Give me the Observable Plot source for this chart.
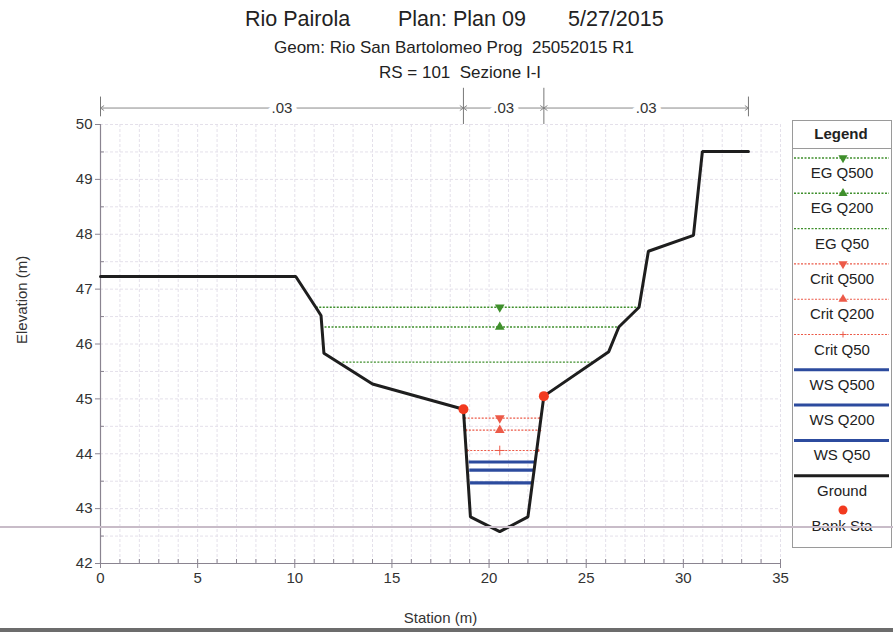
<!DOCTYPE html>
<html>
<head>
<meta charset="utf-8">
<script src="https://cdn.jsdelivr.net/npm/d3@7"></script>
<script src="https://cdn.jsdelivr.net/npm/@observablehq/plot@0.6"></script>
<style>
  html, body { margin: 0; padding: 0; background: #fff; }
  body { width: 893px; height: 632px; position: relative; overflow: hidden; font-family: "Liberation Sans", Arial, sans-serif; color: #222; }
  #chart { position: absolute; left: 0; top: 0; }
  .t { position: absolute; white-space: pre; }
  .c { text-align: center; left: 0; width: 900px; }
  #legend { position: absolute; left: 0; top: 0; }
  #scanline { position: absolute; left: 0; top: 526px; width: 893px; height: 1.5px; background: #c8bcc8; }
  #bottomband { position: absolute; left: 0; top: 628px; width: 893px; height: 4px; background: #6c6c6c; }
</style>
</head>
<body>
<div id="chart"></div>
<div class="t" style="top:7px;left:245px;font-size:21.5px;">Rio Pairola</div>
<div class="t" style="top:7px;left:398px;font-size:21.5px;">Plan: Plan 09</div>
<div class="t" style="top:7px;left:568px;font-size:21.5px;">5/27/2015</div>
<div class="t c" style="top:38px;font-size:17px;left:4px;">Geom: Rio San Bartolomeo Prog  25052015 R1</div>
<div class="t c" style="top:63px;font-size:17px;left:10px;">RS = 101  Sezione I-I</div>
<svg id="legend" width="893" height="632"></svg>
<div id="scanline"></div>
<div id="bottomband"></div>
<script>
// Ground profile
const groundStation = [0, 10.05, 11.08, 11.35, 11.5, 14.0, 18.68, 19.04, 20.55, 22.0, 22.82, 26.16, 26.68, 27.72, 28.2, 30.52, 30.98, 33.35];
const groundElev    = [47.23, 47.23, 46.67, 46.52, 45.83, 45.27, 44.81, 42.85, 42.58, 42.85, 45.05, 45.86, 46.31, 46.67, 47.69, 47.98, 49.51, 49.51];

// Bank stations
const bankStation = [18.68, 22.82];
const bankElev    = [44.81, 45.05];

// Water surface profiles
const profileNames = ["EG Q500", "EG Q200", "EG Q50", "Crit Q500", "Crit Q200", "Crit Q50", "WS Q500", "WS Q200", "WS Q50"];
const profileElev  = [46.67, 46.31, 45.67, 44.65, 44.43, 44.06, 43.85, 43.70, 43.47];
const profileLeft  = [11.08, 11.35, 12.45, 18.72, 18.78, 18.85, 18.95, 18.98, 19.02];
const profileRight = [27.72, 26.68, 25.30, 22.65, 22.60, 22.52, 22.32, 22.28, 22.18];
const profileMarkerStation = 20.55;

// Manning's n regions
const nStart = [0, 18.68, 22.82];
const nEnd   = [18.68, 22.82, 33.35];
const nValue = [".03", ".03", ".03"];

// Axis ticks
const xTicks = [0, 5, 10, 15, 20, 25, 30, 35];
const yTicks = [42, 43, 44, 45, 46, 47, 48, 49, 50];

const ground = groundStation.map((s, i) => ({station: s, elev: groundElev[i]}));
const banks = bankStation.map((s, i) => ({station: s, elev: bankElev[i]}));
const profiles = profileNames.map((n, i) => ({name: n, elev: profileElev[i], left: profileLeft[i], right: profileRight[i]}));
const nRegions = nStart.map((s, i) => ({start: s, end: nEnd[i], mid: (s + nEnd[i]) / 2, label: nValue[i]}));

const style = {
  "EG":   {stroke: "#3f8f2c", width: 1.4, dash: "2,1.5"},
  "Crit": {stroke: "#ec5a48", width: 1.1, dash: "2,1.5"},
  "WS":   {stroke: "#2c4b9e", width: 3.2, dash: null}
};
const kind = n => n.split(" ")[0];
const marker = n => ({"EG Q500": "down", "EG Q200": "up", "Crit Q500": "down", "Crit Q200": "up", "Crit Q50": "plus"})[n] || null;

const axisColor = "#8a8490";
const marks = [];
// grid
marks.push(Plot.ruleX(d3.range(1, 36, 1), {stroke: "#e4e0ea", strokeWidth: 1, strokeDasharray: "3,2"}));
marks.push(Plot.ruleY(d3.range(42.5, 50.01, 0.5), {stroke: "#e4e0ea", strokeWidth: 1, strokeDasharray: "3,2"}));
// axes lines
marks.push(Plot.ruleY([42], {stroke: axisColor, strokeWidth: 1.2}));
marks.push(Plot.ruleX([0], {stroke: axisColor, strokeWidth: 1.2}));
// minor ticks
marks.push(Plot.axisX(d3.range(0, 36, 1), {tickSize: -4, text: null, stroke: axisColor, label: null}));
marks.push(Plot.axisY(d3.range(42.5, 50, 1), {tickSize: -4, text: null, stroke: axisColor, label: null}));
// major axes
marks.push(Plot.axisX(xTicks, {tickSize: 5, tickPadding: 4, stroke: axisColor, fill: "#333", fontSize: 15, label: null, tickFormat: d => String(d)}));
marks.push(Plot.axisY(yTicks, {tickSize: 5, tickPadding: 3, stroke: axisColor, fill: "#333", fontSize: 15, label: null, tickFormat: d => String(d)}));

// Manning n arrows
nRegions.forEach(r => {
  marks.push(Plot.arrow([r], {x1: "mid", x2: "start", y1: 50.30, y2: 50.30, stroke: "#8a8a8a", strokeWidth: 1, headLength: 6, headAngle: 70}));
  marks.push(Plot.arrow([r], {x1: "mid", x2: "end", y1: 50.30, y2: 50.30, stroke: "#8a8a8a", strokeWidth: 1, headLength: 6, headAngle: 70}));
  marks.push(Plot.text([r], {x: "mid", y: 50.30, text: "label", fontSize: 15, fill: "#333", stroke: "white", strokeWidth: 10}));
});
const bounds = [nStart[0], ...nEnd];
marks.push(Plot.ruleX(bounds.filter((b, i) => i === 0 || i === bounds.length - 1), {y1: 50.14, y2: 50.5, stroke: "#777", strokeWidth: 1}));
marks.push(Plot.ruleX(bounds.filter((b, i) => i > 0 && i < bounds.length - 1), {y1: 50.0, y2: 50.66, stroke: "#777", strokeWidth: 1}));

// water profiles
profiles.forEach(p => {
  const s = style[kind(p.name)];
  marks.push(Plot.link([p], {x1: "left", x2: "right", y1: "elev", y2: "elev", stroke: s.stroke, strokeWidth: s.width, strokeDasharray: s.dash}));
  const m = marker(p.name);
  if (m === "up" || m === "down") {
    marks.push(Plot.dot([p], {x: profileMarkerStation, y: "elev", symbol: "triangle", r: 3.6, fill: s.stroke, rotate: m === "down" ? 180 : 0}));
  } else if (m === "plus") {
    marks.push(Plot.dot([p], {x: profileMarkerStation, y: "elev", symbol: "plus", r: 3.2, stroke: s.stroke, strokeWidth: 1}));
  }
  if (kind(p.name) === "Crit") {
    marks.push(Plot.dot([p, p], {x: (d, i) => i === 0 ? d.left : d.right, y: "elev", r: 1.6, fill: s.stroke}));
  }
});

// ground
marks.push(Plot.line(ground, {x: "station", y: "elev", stroke: "#1e1e1e", strokeWidth: 3, strokeLinejoin: "miter"}));
// bank stations
marks.push(Plot.dot(banks, {x: "station", y: "elev", r: 5, fill: "#f23a1f"}));

// axis titles
marks.push(Plot.text(["Station (m)"], {frameAnchor: "bottom", dy: 59, text: d => d, fontSize: 15, fill: "#333"}));
marks.push(Plot.text(["Elevation (m)"], {frameAnchor: "left", dx: -78, rotate: -90, text: d => d, fontSize: 15, fill: "#333"}));

const chart = Plot.plot({
  width: 893,
  height: 632,
  marginLeft: 100,
  marginRight: 113,
  marginTop: 124,
  marginBottom: 69,
  x: {domain: [0, 35], label: null},
  y: {domain: [42, 50], label: null},
  style: {fontFamily: "Liberation Sans, Arial, sans-serif", background: "transparent", overflow: "visible"},
  marks
});
document.getElementById("chart").appendChild(chart);

// Legend
const lg = d3.select("#legend");
const L = {x0: 792, x1: 891, top: 120, bottom: 547};
lg.append("rect").attr("x", L.x0 + 0.5).attr("y", L.top + 0.5).attr("width", L.x1 - L.x0).attr("height", L.bottom - L.top)
  .attr("fill", "white").attr("stroke", "#9a9a9a").attr("stroke-width", 1);
lg.append("line").attr("x1", L.x0).attr("x2", L.x1).attr("y1", 148.5).attr("y2", 148.5).attr("stroke", "#9a9a9a");
lg.append("text").attr("x", 841).attr("y", 139).attr("text-anchor", "middle").attr("font-weight", "bold")
  .attr("font-size", 15).attr("font-family", "Liberation Sans, Arial, sans-serif").attr("fill", "#222").text("Legend");
const cx = 843;
const legendItems = [...profileNames, "Ground", "Bank Sta"];
legendItems.forEach((name, i) => {
  const ly = 158 + i * 35.3;
  const tag = kind(name);
  if (name === "Bank Sta") {
    lg.append("circle").attr("cx", cx).attr("cy", ly - 1).attr("r", 4.5).attr("fill", "#f23a1f");
  } else if (name === "Ground") {
    lg.append("line").attr("x1", L.x0 + 2).attr("x2", L.x1 - 2).attr("y1", ly).attr("y2", ly).attr("stroke", "#1e1e1e").attr("stroke-width", 3);
  } else {
    const s = style[tag];
    const ln = lg.append("line").attr("x1", L.x0 + 2).attr("x2", L.x1 - 2).attr("y1", ly).attr("y2", ly)
      .attr("stroke", s.stroke).attr("stroke-width", tag === "WS" ? 3 : s.width);
    if (s.dash) ln.attr("stroke-dasharray", s.dash);
    const m = marker(name);
    if (m === "up" || m === "down") {
      const sym = d3.symbol(d3.symbolTriangle, 36)();
      lg.append("path").attr("d", sym).attr("fill", s.stroke)
        .attr("transform", `translate(${cx},${ly}) rotate(${m === "down" ? 180 : 0})`);
    } else if (m === "plus") {
      lg.append("path").attr("d", `M${cx - 3},${ly}H${cx + 3}M${cx},${ly - 3}V${ly + 3}`).attr("stroke", s.stroke);
    }
  }
  lg.append("text").attr("x", cx - 1).attr("y", ly + 20).attr("text-anchor", "middle").attr("font-size", 15)
    .attr("font-family", "Liberation Sans, Arial, sans-serif").attr("fill", "#222").text(name);
});
</script>
</body>
</html>
